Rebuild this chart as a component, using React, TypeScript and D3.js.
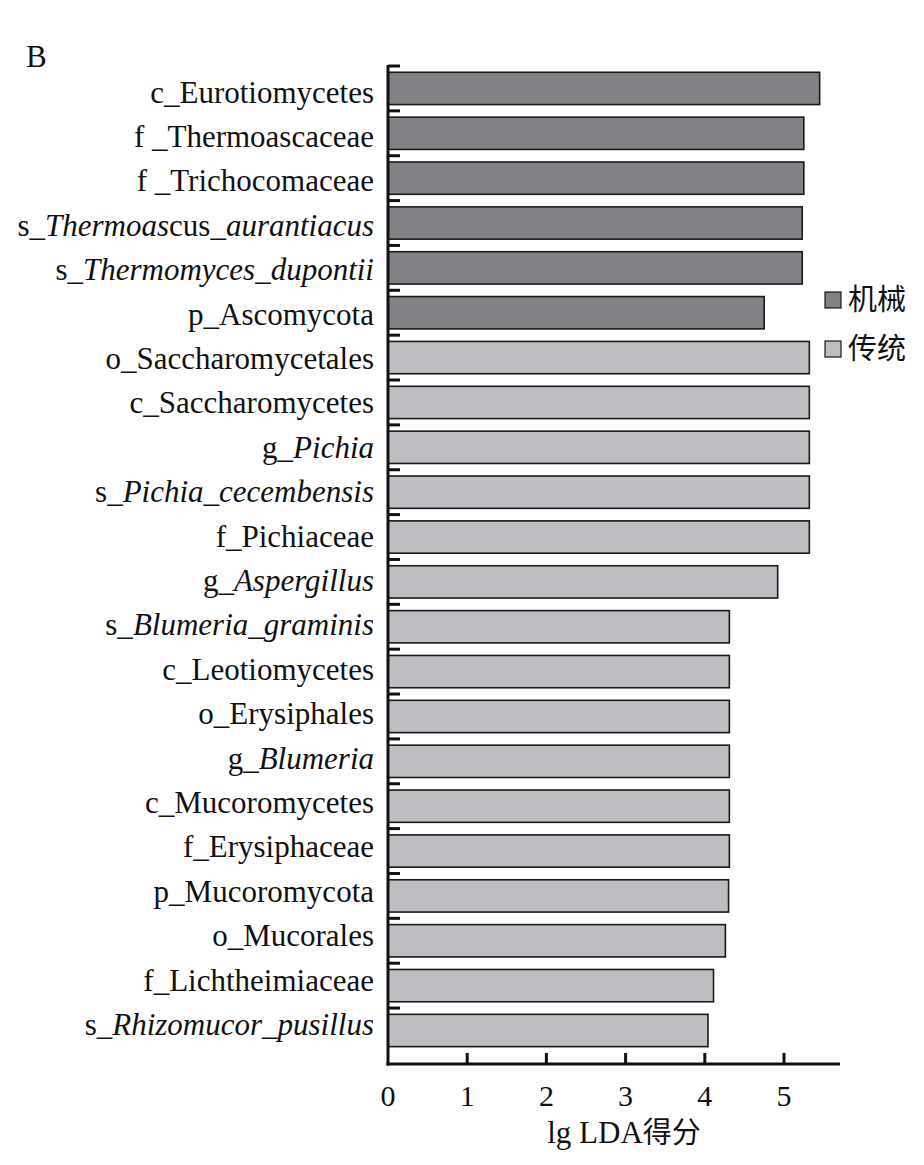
import React from "react";
import * as d3 from "d3";

const categories = [
  "c_Eurotiomycetes",
  "f _Thermoascaceae",
  "f _Trichocomaceae",
  "s_Thermoascus_aurantiacus",
  "s_Thermomyces_dupontii",
  "p_Ascomycota",
  "o_Saccharomycetales",
  "c_Saccharomycetes",
  "g_Pichia",
  "s_Pichia_cecembensis",
  "f_Pichiaceae",
  "g_Aspergillus",
  "s_Blumeria_graminis",
  "c_Leotiomycetes",
  "o_Erysiphales",
  "g_Blumeria",
  "c_Mucoromycetes",
  "f_Erysiphaceae",
  "p_Mucoromycota",
  "o_Mucorales",
  "f_Lichtheimiaceae",
  "s_Rhizomucor_pusillus",
];

// label segments: [text, italic]
const labelParts: [string, boolean][][] = [
  [["c_Eurotiomycetes", false]],
  [["f _Thermoascaceae", false]],
  [["f _Trichocomaceae", false]],
  [["s_", false], ["Thermoas", true], ["cus", false], ["_aurantiacus", true]],
  [["s_", false], ["Thermomyces_dupontii", true]],
  [["p_Ascomycota", false]],
  [["o_Saccharomycetales", false]],
  [["c_Saccharomycetes", false]],
  [["g_", false], ["Pichia", true]],
  [["s_", false], ["Pichia_cecembensis", true]],
  [["f_Pichiaceae", false]],
  [["g_", false], ["Aspergillus", true]],
  [["s_", false], ["Blumeria_graminis", true]],
  [["c_Leotiomycetes", false]],
  [["o_Erysiphales", false]],
  [["g_", false], ["Blumeria", true]],
  [["c_Mucoromycetes", false]],
  [["f_Erysiphaceae", false]],
  [["p_Mucoromycota", false]],
  [["o_Mucorales", false]],
  [["f_Lichtheimiaceae", false]],
  [["s_", false], ["Rhizomucor_pusillus", true]],
];

const values = [
  5.45, 5.25, 5.25, 5.23, 5.23, 4.75,
  5.32, 5.32, 5.32, 5.32, 5.32, 4.92,
  4.31, 4.31, 4.31, 4.31, 4.31, 4.31, 4.3, 4.26, 4.11, 4.04,
];

const groups = [
  "机械", "机械", "机械", "机械", "机械", "机械",
  "传统", "传统", "传统", "传统", "传统", "传统", "传统", "传统", "传统", "传统",
  "传统", "传统", "传统", "传统", "传统", "传统",
];

const legendItems = ["机械", "传统"];
const xTicks = [0, 1, 2, 3, 4, 5];
const colors: Record<string, string> = { 机械: "#828286", 传统: "#bebec2" };

const FONT = "'Liberation Serif', 'Times New Roman', serif";
const CJK = "'Noto Sans CJK SC', 'Noto Sans CJK JP', sans-serif";

export default function App() {
  const W = 924, H = 1165;
  const x0 = 388, yTop = 66, axisY = 1064;
  const x = d3.scaleLinear().domain([0, 5]).range([x0, 784]);
  const step = 44.86;
  const y = d3
    .scaleBand<string>()
    .domain(categories)
    .range([yTop, yTop + step * categories.length])
    .paddingInner(0.28)
    .paddingOuter(0.14);
  // label baselines (slightly tighter spacing than bars, as in the original)
  const yLabel = d3.scalePoint<string>().domain(categories).range([102.5, 1035]);
  const bw = y.bandwidth();
  const stp = y.step();

  return (
    <svg
      width={W}
      height={H}
      style={{ position: "absolute", left: 0, top: 0, background: "#fff" }}
    >
      <text x={26} y={67} fontFamily={FONT} fontSize={31} fill="#111">B</text>

      {categories.map((c, i) => (
        <rect
          key={c}
          x={x(0)}
          y={y(c)!}
          width={x(values[i]) - x(0)}
          height={bw}
          fill={colors[groups[i]]}
          stroke="#1a1a1a"
          strokeWidth={1.6}
        />
      ))}

      {categories.map((c, i) => (
        <text
          key={"l" + c}
          x={374}
          y={yLabel(c)!}
          textAnchor="end"
          fontFamily={FONT}
          fontSize={31}
          fill="#111"
        >
          {labelParts[i].map(([t, it], k) => (
            <tspan key={k} fontStyle={it ? "italic" : "normal"}>{t}</tspan>
          ))}
        </text>
      ))}

      {/* y axis ticks */}
      {categories.map((c) => (
        <line
          key={"t" + c}
          x1={x0}
          x2={x0 + 12}
          y1={y(c)! - (stp - bw) / 2}
          y2={y(c)! - (stp - bw) / 2}
          stroke="#111"
          strokeWidth={3}
        />
      ))}
      <line x1={x0} x2={x0} y1={yTop - 1} y2={axisY + 1.5} stroke="#111" strokeWidth={3} />
      <line x1={x0 - 1.5} x2={840} y1={axisY} y2={axisY} stroke="#111" strokeWidth={3} />

      {xTicks.map((t) => (
        <g key={"x" + t}>
          {t > 0 && (
            <line x1={x(t)} x2={x(t)} y1={axisY} y2={axisY - 11} stroke="#111" strokeWidth={3} />
          )}
          <text
            x={x(t)}
            y={1106}
            textAnchor="middle"
            fontFamily={FONT}
            fontSize={30}
            fill="#111"
          >
            {t}
          </text>
        </g>
      ))}

      <text x={624} y={1143} textAnchor="middle" fontSize={31} fill="#111">
        <tspan fontFamily={FONT}>lg LDA</tspan>
        <tspan fontFamily={CJK} fontSize={29}>得分</tspan>
      </text>

      {legendItems.map((g, i) => (
        <g key={g}>
          <rect
            x={825}
            y={292 + i * 49}
            width={16}
            height={16}
            fill={colors[g]}
            stroke="#1a1a1a"
            strokeWidth={1.2}
          />
          <text
            x={848}
            y={300 + i * 49}
            dy="0.36em"
            fontFamily={CJK}
            fontSize={29}
            fill="#111"
          >
            {g}
          </text>
        </g>
      ))}
    </svg>
  );
}
